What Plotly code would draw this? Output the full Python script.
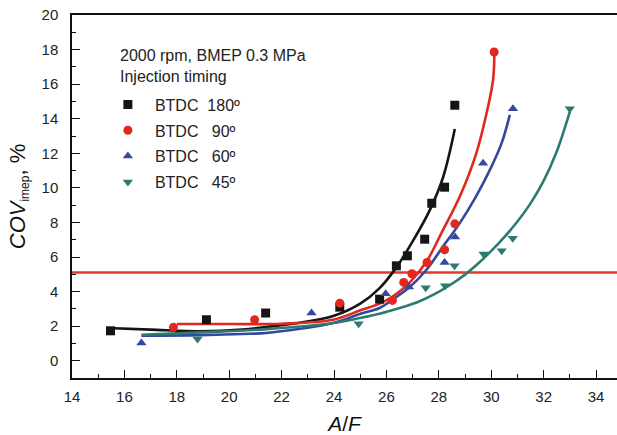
import plotly.graph_objects as go

# ---- measured points ----
btdc180_x = [15.47, 19.13, 21.39, 24.22, 25.74, 26.38, 26.80, 27.46, 27.73, 28.22, 28.61]
btdc180_y = [1.73, 2.37, 2.76, 3.10, 3.56, 5.49, 6.07, 7.03, 9.11, 10.04, 14.78]

btdc90_x = [17.87, 20.97, 24.22, 26.23, 26.66, 26.97, 27.55, 28.22, 28.61, 30.11]
btdc90_y = [1.93, 2.37, 3.33, 3.49, 4.53, 5.03, 5.68, 6.42, 7.92, 17.86]

btdc60_x = [16.65, 23.14, 25.97, 26.86, 28.22, 28.62, 29.69, 30.83]
btdc60_y = [1.02, 2.76, 3.87, 4.26, 5.68, 7.15, 11.43, 14.58]

btdc45_x = [18.79, 24.94, 27.50, 28.24, 28.60, 29.71, 30.40, 30.82, 33.00]
btdc45_y = [1.25, 2.14, 4.22, 4.33, 5.49, 6.17, 6.36, 7.09, 14.58]

# ---- fitted trend curves ----
fit180_x = [15.35, 17.0, 18.9, 20.5, 21.4, 22.7, 24.0, 25.0, 25.74, 26.38, 27.0, 27.65, 28.16, 28.61]
fit180_y = [1.89, 1.80, 1.70, 1.80, 1.95, 2.20, 2.60, 3.30, 4.20, 5.40, 6.90, 8.70, 10.60, 13.40]

fit90_x = [18.0, 20.0, 22.0, 23.96, 24.98, 25.74, 26.25, 26.89, 27.53, 28.16, 28.8, 29.43, 29.82, 30.07, 30.12]
fit90_y = [2.12, 2.12, 2.14, 2.37, 2.90, 3.30, 3.72, 4.53, 5.74, 7.57, 9.50, 12.00, 14.30, 16.24, 17.86]

fit60_x = [16.65, 18.9, 20.8, 21.4, 23.96, 24.98, 25.74, 26.25, 26.89, 27.53, 28.16, 28.8, 29.4, 30.0, 30.4, 30.71]
fit60_y = [1.45, 1.48, 1.56, 1.60, 2.18, 2.70, 3.05, 3.55, 4.26, 5.26, 6.61, 7.96, 9.45, 11.20, 12.60, 14.22]

fit45_x = [16.65, 18.88, 21.42, 23.96, 24.98, 25.74, 26.5, 27.2, 27.8, 28.4, 29.0, 29.5,
           30.0, 30.5, 31.0, 31.5, 32.0, 32.5, 33.0]
fit45_y = [1.50, 1.64, 1.83, 2.18, 2.47, 2.72, 3.05, 3.40, 3.82, 4.35, 4.98, 5.62,
           6.35, 7.15, 8.05, 9.10, 10.40, 12.10, 14.41]

cov_limit = 5.1

series_names = ["BTDC\u00a0\u00a0180º", "BTDC\u00a0\u00a0\u00a090º", "BTDC\u00a0\u00a0\u00a060º", "BTDC\u00a0\u00a0\u00a045º"]
header_text = "2000 rpm, BMEP 0.3 MPa<br>Injection timing"
x_ticks = list(range(14, 35, 2))
y_ticks = list(range(0, 21, 2))

colors = ["#151515", "#e0281e", "#34489c", "#2e7a70"]
symbols = ["square", "circle", "triangle-up", "triangle-down"]
pts = [(btdc180_x, btdc180_y), (btdc90_x, btdc90_y), (btdc60_x, btdc60_y), (btdc45_x, btdc45_y)]
fits = [(fit180_x, fit180_y), (fit90_x, fit90_y), (fit60_x, fit60_y), (fit45_x, fit45_y)]

fig = go.Figure()

fig.add_hline(y=cov_limit, line=dict(color="#e5382c", width=2.5), layer="below")

for i in range(4):
    fx, fy = fits[i]
    fig.add_trace(go.Scatter(x=fx, y=fy, mode="lines", line=dict(color=colors[i], width=2.6, shape="spline", smoothing=1.0),
                             showlegend=False, hoverinfo="skip"))
for i in range(4):
    px_, py_ = pts[i]
    fig.add_trace(go.Scatter(x=px_, y=py_, mode="markers", name=series_names[i], legendgroup=f"g{i}",
                             marker=dict(symbol=symbols[i], color=colors[i], size=9, line=dict(width=0))))

font_family = "Liberation Sans, Arial, sans-serif"
fig.update_layout(
    width=617, height=435,
    margin=dict(l=72, r=0, t=15, b=57),
    paper_bgcolor="white", plot_bgcolor="white",
    font=dict(family=font_family, size=15, color="#222"),
    showlegend=True,
    legend=dict(x=0.053, y=0.80, xanchor="left", yanchor="top", bgcolor="rgba(0,0,0,0)",
                font=dict(size=16, color="#222"), itemwidth=44, tracegroupgap=2, traceorder="grouped"),
    annotations=[dict(text=header_text, x=0.084, y=0.917, xref="paper", yref="paper", xanchor="left", yanchor="top",
                      showarrow=False, align="left", font=dict(size=16, color="#222"))],
)
fig.update_xaxes(range=[14, 34.8], tickvals=x_ticks, ticks="inside", ticklen=8, tickwidth=1.2, tickcolor="#111",
                 showline=True, linecolor="#111", linewidth=1.5, mirror=True, showgrid=False, zeroline=False,
                 ticklabelstandoff=4, tickfont=dict(size=15),
                 minor=dict(dtick=1, tick0=15, ticks="inside", ticklen=4, tickwidth=1.2, tickcolor="#111", showgrid=False),
                 title=dict(text="<i>A</i>/<i>F</i>", font=dict(size=21, color="#111"), standoff=14))
fig.update_yaxes(range=[-1, 20], tickvals=y_ticks, ticks="inside", ticklen=8, tickwidth=1.2, tickcolor="#111",
                 showline=True, linecolor="#111", linewidth=1.5, showgrid=False, zeroline=False,
                 ticklabelstandoff=9, tickfont=dict(size=15),
                 minor=dict(dtick=1, tick0=1, ticks="inside", ticklen=4, tickwidth=1.2, tickcolor="#111", showgrid=False),
                 title=dict(text="<i>COV</i><sub><span style='font-size:12px'>imep</span></sub>, %",
                            font=dict(size=22, color="#111"), standoff=10))

fig.write_html("out.html")
